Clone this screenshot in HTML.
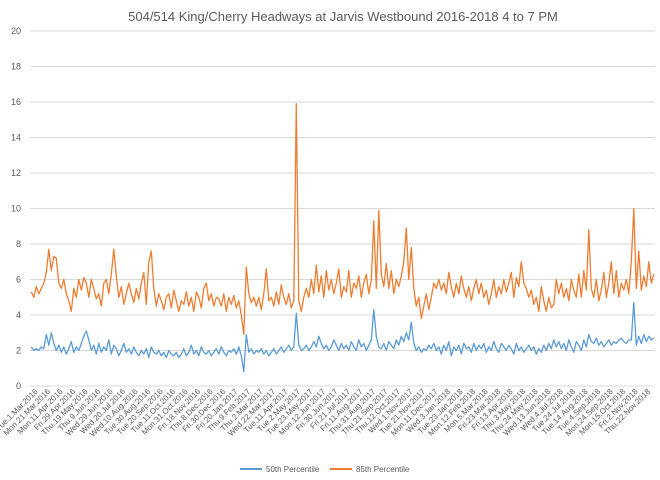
<!DOCTYPE html>
<html><head><meta charset="utf-8"><style>
html,body{margin:0;padding:0;background:#fff;}
svg{display:block;font-family:"Liberation Sans",sans-serif;}
</style></head><body>
<svg id="chart" width="660" height="480" viewBox="0 0 660 480"></svg>
<script>
const yTicks=[0,2,4,6,8,10,12,14,16,18,20];
const xLabels=["Tue.1.Mar.2016","Mon.21.Mar.2016","Mon.11.Apr.2016","Fri.29.Apr.2016","Thu.19.May.2016","Thu.9.Jun.2016","Wed.29.Jun.2016","Wed.20.Jul.2016","Wed.10.Aug.2016","Tue.30.Aug.2016","Tue.20.Sep.2016","Tue.11.Oct.2016","Mon.31.Oct.2016","Fri.18.Nov.2016","Thu.8.Dec.2016","Fri.30.Dec.2016","Fri.20.Jan.2017","Thu.9.Feb.2017","Thu.2.Mar.2017","Wed.22.Mar.2017","Tue.11.Apr.2017","Tue.2.May.2017","Tue.23.May.2017","Mon.12.Jun.2017","Fri.30.Jun.2017","Fri.21.Jul.2017","Fri.11.Aug.2017","Thu.31.Aug.2017","Thu.21.Sep.2017","Thu.12.Oct.2017","Wed.1.Nov.2017","Tue.21.Nov.2017","Mon.11.Dec.2017","Wed.3.Jan.2018","Tue.23.Jan.2018","Mon.12.Feb.2018","Mon.5.Mar.2018","Fri.23.Mar.2018","Fri.13.Apr.2018","Thu.3.May.2018","Thu.24.May.2018","Wed.13.Jun.2018","Wed.4.Jul.2018","Tue.24.Jul.2018","Tue.14.Aug.2018","Tue.4.Sep.2018","Mon.24.Sep.2018","Mon.15.Oct.2018","Fri.2.Nov.2018","Thu.22.Nov.2018"];
const p85=[5.3,5.0,5.6,5.2,5.5,5.8,6.4,7.7,6.5,7.3,
7.2,5.8,5.5,6.0,5.2,4.8,4.2,5.5,5.0,6.0,
5.4,6.1,5.8,5.0,6.0,5.5,4.9,5.2,4.5,5.8,
6.0,5.2,6.3,7.7,6.2,5.0,5.6,4.6,5.2,5.8,
5.2,4.7,5.5,4.9,5.8,6.4,4.6,7.0,7.6,5.5,
4.5,5.2,4.8,4.3,5.0,5.2,4.4,5.4,4.8,4.2,
4.8,4.6,5.3,4.5,5.0,4.2,5.3,5.0,4.4,5.5,
5.8,4.8,5.2,4.5,5.0,4.9,4.5,5.2,4.2,5.0,
4.6,5.1,4.4,4.8,4.0,2.9,6.7,5.2,4.7,5.0,
4.5,5.0,4.3,5.2,6.6,4.8,5.0,4.5,5.3,4.6,
5.7,5.0,4.6,5.2,4.4,4.8,15.9,4.8,4.2,5.0,
5.5,5.0,6.0,5.2,6.8,5.3,6.2,5.0,6.5,5.4,
6.0,5.2,5.8,6.6,5.0,5.6,5.3,6.5,5.0,5.8,
5.5,6.2,5.0,5.8,6.3,5.2,6.0,9.3,5.5,9.9,
6.3,5.6,6.9,5.5,6.5,5.2,6.0,5.6,6.2,7.0,
8.9,6.0,7.8,5.5,4.5,5.0,3.8,4.5,5.2,4.3,
5.0,5.8,5.5,6.0,5.4,5.8,5.2,6.4,5.6,5.0,
5.8,5.2,6.2,5.5,5.0,5.6,4.8,5.5,6.0,5.2,
5.8,5.0,5.4,4.6,5.2,6.0,5.0,5.6,5.2,6.0,
5.3,5.8,6.4,5.0,6.1,5.6,7.0,5.8,5.5,5.0,
5.4,4.6,5.0,4.2,5.6,4.8,4.2,5.0,4.4,4.6,
6.0,5.2,5.8,5.0,5.5,4.8,6.0,5.4,5.0,6.3,
5.0,6.5,5.4,8.8,5.5,5.0,6.0,4.8,5.4,6.4,
5.0,5.8,7.0,5.2,6.5,5.0,5.8,5.4,6.0,5.2,
7.0,10.0,5.5,7.6,5.4,6.2,5.6,7.0,5.8,6.3];
const p50=[2.2,2.0,2.1,2.0,2.2,2.1,2.9,2.3,3.0,2.4,
2.0,2.3,1.9,2.2,1.8,2.1,2.5,1.9,2.2,2.0,
2.4,2.8,3.1,2.6,2.0,2.3,1.8,2.4,1.9,2.2,
2.0,2.6,1.8,2.3,2.1,1.7,2.0,2.4,1.9,2.1,
1.8,2.2,1.9,1.7,2.0,1.8,2.1,1.6,2.2,1.9,
1.8,2.0,1.7,1.9,1.6,2.0,1.8,1.7,1.9,1.6,
1.8,2.1,1.7,1.9,2.3,1.8,2.0,1.7,2.2,1.9,
1.8,2.0,1.7,1.9,2.1,1.8,2.2,1.9,1.7,2.0,
1.9,2.1,1.8,2.2,1.7,0.8,2.9,1.9,2.1,1.8,
2.0,1.9,2.1,1.8,2.0,1.7,1.9,2.1,1.8,2.0,
2.2,1.9,2.1,2.3,2.0,2.2,4.1,2.3,2.0,2.1,
2.3,2.0,2.2,2.5,2.2,2.8,2.4,2.1,2.3,2.0,
2.2,2.6,2.3,2.0,2.4,2.1,2.3,2.0,2.5,2.2,
2.0,2.6,2.2,2.4,2.0,2.3,2.6,4.3,2.8,2.2,
2.1,2.4,2.0,2.5,2.3,2.1,2.6,2.3,2.8,2.5,
3.0,2.6,3.6,2.4,2.0,2.2,1.9,2.1,2.0,2.3,
2.1,2.4,2.0,2.2,1.8,2.3,2.0,2.5,1.7,2.2,
2.0,2.3,1.8,2.4,2.1,2.2,1.9,2.4,2.0,2.3,
2.1,2.4,1.9,2.2,2.0,2.5,2.1,1.9,2.4,2.2,
2.0,2.3,2.1,1.8,2.4,2.0,2.2,1.9,2.1,2.3,
2.0,2.2,1.8,2.1,1.9,2.3,2.0,2.4,2.1,2.6,
2.2,2.5,2.1,2.4,2.0,2.6,2.2,1.9,2.5,2.3,
2.0,2.6,2.2,2.9,2.5,2.4,2.7,2.3,2.5,2.2,
2.4,2.6,2.3,2.5,2.4,2.6,2.7,2.5,2.4,2.6,
2.6,4.7,2.3,2.8,2.4,2.9,2.5,2.8,2.6,2.7];

const NS="http://www.w3.org/2000/svg";
const svg=document.getElementById('chart');
const L=30,R=655,T=31,B=386,yMax=20;
const yS=v=>B-(v/yMax)*(B-T);
const xS=i=>L+(i+0.5)*(R-L)/p85.length;
const xL=k=>L+(k+0.5)*(R-L)/xLabels.length;
function mk(tag,attrs){const e=document.createElementNS(NS,tag);for(const k in attrs)e.setAttribute(k,attrs[k]);svg.appendChild(e);return e;}

const title=mk('text',{x:343,y:21,'text-anchor':'middle','font-size':13,fill:'#595959'});
title.textContent='504/514 King/Cherry Headways at Jarvis Westbound 2016-2018 4 to 7 PM';



yTicks.forEach(v=>{
  const g=mk('line',{x1:L,x2:R,y1:yS(v),y2:yS(v),stroke:'#d9d9d9','stroke-width':1});
  
  
  const t=mk('text',{x:21,y:yS(v)+3,'text-anchor':'end','font-size':9,fill:'#595959'});
  t.textContent=v;
  
  
});

xLabels.forEach((s,k)=>{
  const x=xL(k)+2,y=392;
  const t=mk('text',{x:x,y:y,'text-anchor':'end','font-size':8,fill:'#595959',transform:`rotate(-45 ${x} ${y})`});
  t.textContent=s;
  
  
});

function line(arr,color,name){
  const d=arr.map((v,i)=>(i?'L':'M')+xS(i).toFixed(1)+' '+yS(v).toFixed(1)).join(' ');
  const p=mk('path',{d:d,fill:'none',stroke:color,'stroke-width':1.3,'stroke-linejoin':'round'});
  
  
}
line(p85,'#ed7d31','series-85th-percentile');
line(p50,'#5b9bd5','series-50th-percentile');

function legend(x,color,label,name){
  const l=mk('line',{x1:x,x2:x+22,y1:469,y2:469,stroke:color,'stroke-width':2});
  
  
  const t=mk('text',{x:x+26,y:472,'font-size':8,fill:'#595959'});
  t.textContent=label;
  
  
}
legend(240,'#5b9bd5','50th Percentile','legend-entry-50th');
legend(330,'#ed7d31','85th Percentile','legend-entry-85th');
</script>
</body></html>
